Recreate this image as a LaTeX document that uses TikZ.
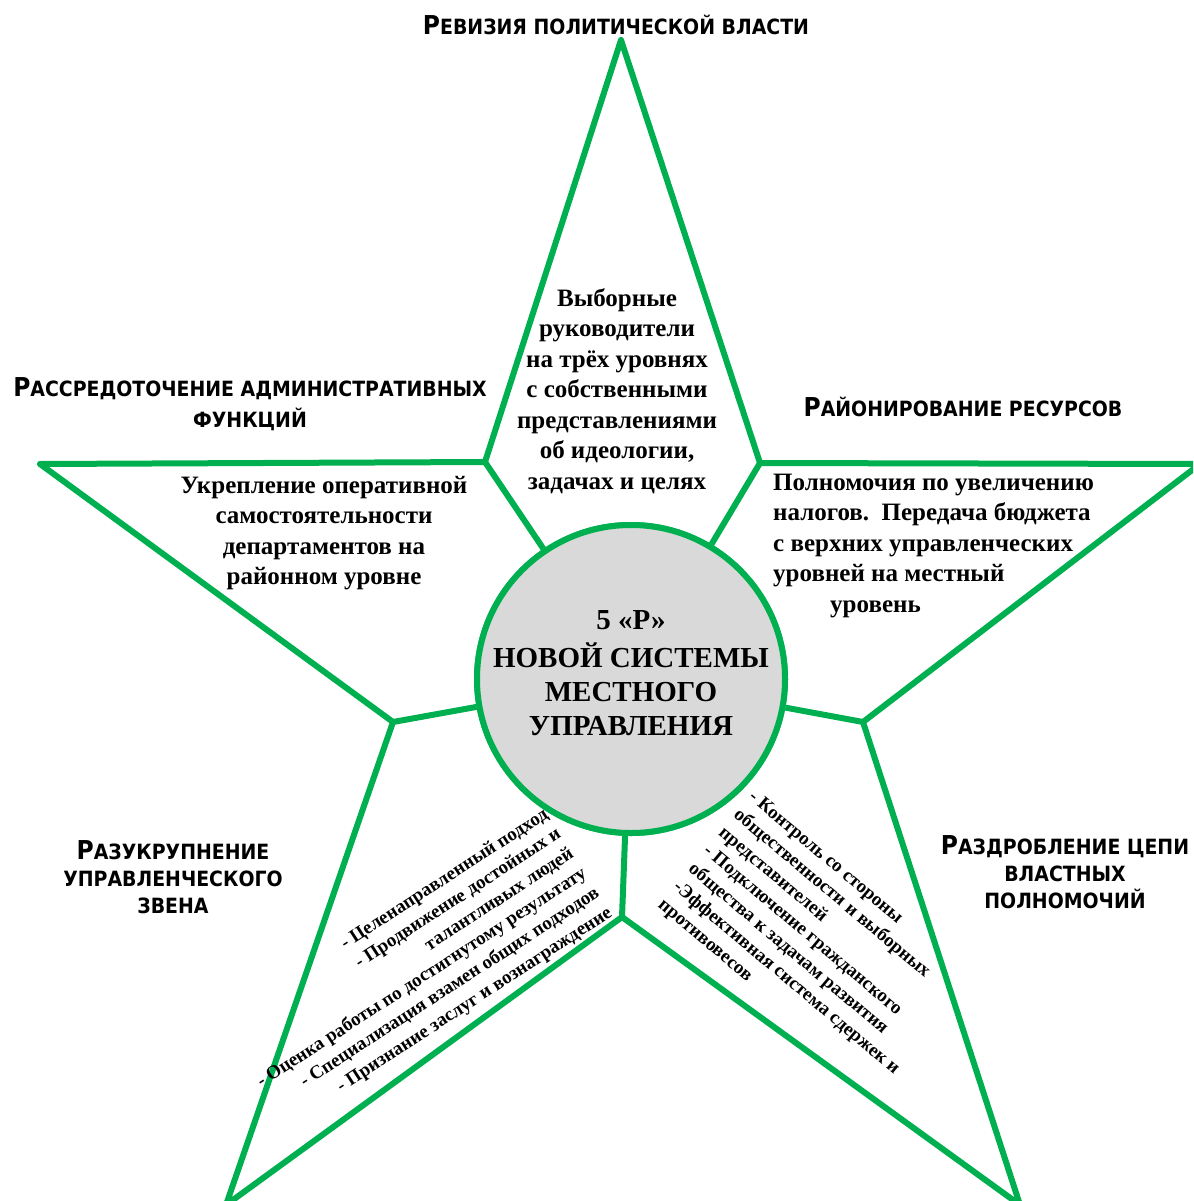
\documentclass[tikz,border=0pt]{standalone}
\usepackage{fontspec}
\setmainfont{Liberation Serif}
\newfontfamily\hdfont{DejaVu Sans}[FakeStretch=0.9]
\definecolor{stargreen}{RGB}{0,176,80}
\definecolor{hubgray}{RGB}{217,217,217}
\newcommand\hcap[1]{{\fontsize{26}{27}\selectfont #1}}
\tikzset{
  starline/.style={draw=stargreen, line width=6pt, line join=round},
  hub/.style={circle, draw=stargreen, fill=hubgray, line width=6pt, minimum size=308pt, inner sep=0pt},
  hubtext/.style={align=center, inner sep=0pt, font=\bfseries\fontsize{29}{34}\selectfont},
  armtext/.style={inner sep=0pt, font=\bfseries\fontsize{25}{30.5}\selectfont},
  smalltext/.style={inner sep=0pt, font=\bfseries\fontsize{19}{23.5}\selectfont},
  heading/.style={align=center, inner sep=0pt, font=\hdfont\bfseries\fontsize{21}{27}\selectfont},
}
\begin{document}
\begin{tikzpicture}[x=1pt,y=-1pt]
\useasboundingbox (0,0) rectangle (1193,1201);
\clip (0,0) rectangle (1193,1201);
% star vertices
\coordinate (pT) at (621,40);
\coordinate (iTR) at (760,463);
\coordinate (pR) at (1200,464);
\coordinate (iR) at (863,722);
\coordinate (pBR) at (1020,1205);
\coordinate (iB) at (622,917);
\coordinate (pBL) at (226,1205);
\coordinate (iL) at (393,722);
\coordinate (pL) at (40,464);
\coordinate (iTL) at (485,462);
\draw[starline] (pT) -- (iTR) -- (pR) -- (iR) -- (pBR) -- (iB) -- (pBL) -- (iL) -- (pL) -- (iTL) -- cycle;
% hub
\node[hub] (hub) at (631,679) {};
\foreach \v in {iTR,iR,iB,iL,iTL} \draw[starline] (\v) -- (hub);
\node[hub] (hubfill) at (631,679) {};
\node[hubtext] (hubt) at (631,673) {5 «Р»\\[4pt]НОВОЙ СИСТЕМЫ\\МЕСТНОГО\\УПРАВЛЕНИЯ};
% arm texts
\node[armtext, align=center] (tTop) at (617,391) {Выборные\\руководители\\на трёх уровнях\\с собственными\\представлениями\\об идеологии,\\задачах и целях};
\node[armtext, align=center] (tLeft) at (324,533) {Укрепление оперативной\\самостоятельности\\департаментов на\\районном уровне};
\node[armtext, align=left, anchor=west] (tRight) at (773,546) {Полномочия по увеличению\\налогов.\ \ Передача бюджета\\с верхних управленческих\\уровней на местный\\\hspace*{57pt}уровень};
\node[smalltext, align=right, rotate=33, anchor=north east] (tBL) at (542,806) {- Целенаправленный подход\\- Продвижение достойных и\\талантливых людей\\- Оценка работы по достигнутому результату\\- Специализация взамен общих подходов\\- Признание заслуг и вознаграждение};
\node[smalltext, align=left, rotate=-40, anchor=north west] (tBR) at (756,789) {- Контроль со стороны\\общественности и выборных\\представителей\\- Подключение гражданского\\общества к задачам развития\\-Эффективная система сдержек и\\противовесов};
% headings
\node[heading] (hTop) at (616,25) {\hcap{Р}ЕВИЗИЯ ПОЛИТИЧЕСКОЙ ВЛАСТИ};
\node[heading] (hL) at (250,404) {\hcap{Р}АССРЕДОТОЧЕНИЕ АДМИНИСТРАТИВНЫХ\\[4pt]ФУНКЦИЙ};
\node[heading] (hR) at (963,407) {\hcap{Р}АЙОНИРОВАНИЕ РЕСУРСОВ};
\node[heading] (hBL) at (173,877) {\hcap{Р}АЗУКРУПНЕНИЕ\\УПРАВЛЕНЧЕСКОГО\\ЗВЕНА};
\node[heading] (hBR) at (1065,872) {\hcap{Р}АЗДРОБЛЕНИЕ ЦЕПИ\\ВЛАСТНЫХ\\ПОЛНОМОЧИЙ};
\end{tikzpicture}
\end{document}
